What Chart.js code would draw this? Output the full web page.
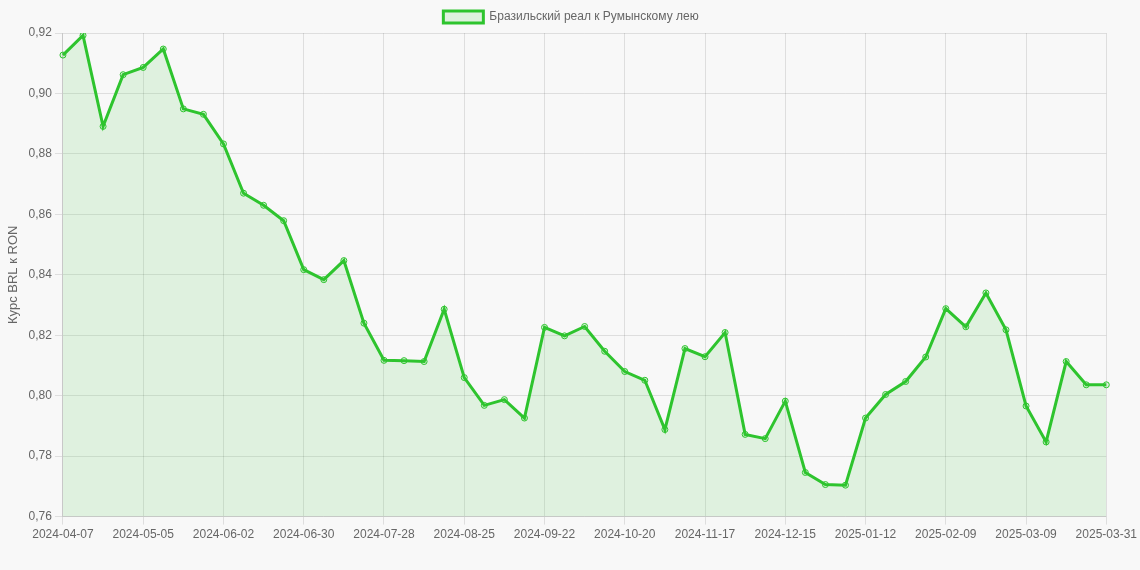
<!DOCTYPE html>
<html>
<head>
<meta charset="utf-8">
<script src="https://cdn.jsdelivr.net/npm/chart.js@4"></script>
<style>
  html, body { margin: 0; padding: 0; background: #f8f8f8; }
  #wrap { width: 1140px; height: 570px; }
</style>
</head>
<body>
<div id="wrap"><canvas id="chart-rate"></canvas></div>
<script>
const labels = [
  "2024-04-07", "2024-04-14", "2024-04-21", "2024-04-28", "2024-05-05", "2024-05-12", "2024-05-19",
  "2024-05-26", "2024-06-02", "2024-06-09", "2024-06-16", "2024-06-23", "2024-06-30", "2024-07-07",
  "2024-07-14", "2024-07-21", "2024-07-28", "2024-08-04", "2024-08-11", "2024-08-18", "2024-08-25",
  "2024-09-01", "2024-09-08", "2024-09-15", "2024-09-22", "2024-09-29", "2024-10-06", "2024-10-13",
  "2024-10-20", "2024-10-27", "2024-11-03", "2024-11-10", "2024-11-17", "2024-11-24", "2024-12-01",
  "2024-12-08", "2024-12-15", "2024-12-22", "2024-12-29", "2025-01-05", "2025-01-12", "2025-01-19",
  "2025-01-26", "2025-02-02", "2025-02-09", "2025-02-16", "2025-02-23", "2025-03-02", "2025-03-09",
  "2025-03-16", "2025-03-23", "2025-03-30", "2025-03-31"
];

const rates = [
  0.9127, 0.9192, 0.8891, 0.9062, 0.9086, 0.9147, 0.8949,
  0.8931, 0.8833, 0.8670, 0.8630, 0.8579, 0.8417, 0.8384,
  0.8447, 0.8240, 0.8117, 0.8116, 0.8113, 0.8286, 0.8060,
  0.7968, 0.7987, 0.7926, 0.8226, 0.8198, 0.8229, 0.8147,
  0.8080, 0.8051, 0.7888, 0.8156, 0.8129, 0.8209, 0.7872,
  0.7858, 0.7982, 0.7746, 0.7706, 0.7704, 0.7926, 0.8004,
  0.8047, 0.8128, 0.8288, 0.8228, 0.8340, 0.8218, 0.7966,
  0.7847, 0.8113, 0.8036, 0.8036
];

const yMin = 0.76;
const yMax = 0.92;
const yStep = 0.02;

Chart.defaults.font.family = "'Liberation Sans', Arial, sans-serif";
Chart.defaults.font.size = 12;
Chart.defaults.color = "#666";

let ctx_rate = document.getElementById("chart-rate").getContext("2d");
let chart_rate = new Chart(ctx_rate, {
  type: "line",
  data: {
    labels: labels,
    datasets: [
      {
        label: "Бразильский реал к Румынскому лею",
        data: rates,
        borderColor: "rgb(46, 196, 46)",
        backgroundColor: "rgba(46, 196, 46, 0.12)",
        pointBackgroundColor: "rgba(46, 196, 46, 0.12)",
        pointBorderColor: "rgb(46, 196, 46)",
        pointRadius: 3,
        pointBorderWidth: 1,
        borderWidth: 3,
        fill: true,
        tension: 0,
      },
    ],
  },
  options: {
    responsive: true,
    maintainAspectRatio: false,
    animation: false,
    layout: {
      padding: { top: 1, left: 2, bottom: 25 },
    },
    plugins: {
      legend: {
        labels: {
          boxWidth: 40,
        },
      },
    },
    scales: {
      x: {
        grid: { color: "rgba(0, 0, 0, 0.1)" },
        ticks: { maxRotation: 0 },
      },
      y: {
        min: yMin,
        max: yMax,
        grid: { color: "rgba(0, 0, 0, 0.1)" },
        ticks: {
          stepSize: yStep,
          callback: function (value) {
            return value.toFixed(2).replace(".", ",");
          },
        },
        title: {
          display: true,
          text: "Курс BRL к RON",
          font: { size: 13 },
        },
      },
    },
  },
});
</script>
</body>
</html>
